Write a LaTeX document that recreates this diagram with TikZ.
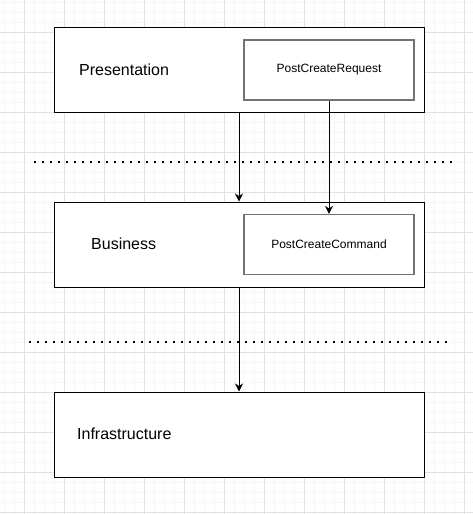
\documentclass[tikz,border=0pt]{standalone}
\usepackage[]{xcolor}
\usepackage{fontspec}
\setmainfont{Liberation Sans}
\usetikzlibrary{arrows.meta}

\definecolor{gridminor}{RGB}{246,246,246}
\definecolor{gridmajor}{RGB}{226,226,226}
\definecolor{innerline}{RGB}{115,115,115}

\tikzset{
  layer/.style     = {draw=black, line width=1pt, fill=white, rectangle,
                      minimum width=370pt, minimum height=85pt, inner sep=0pt},
  classbox/.style  = {draw=innerline, line width=1.2pt, fill=white, rectangle,
                      minimum width=170pt, minimum height=60pt, inner sep=0pt,
                      font=\fontsize{12}{14}\selectfont},
  layername/.style = {anchor=west, inner sep=0pt, font=\fontsize{16}{19}\selectfont},
  flow/.style      = {line width=1pt, -{Stealth[length=8pt,width=8pt,inset=2.5pt]}},
  divider/.style   = {line width=2pt, dash pattern=on 2pt off 6pt},
}

\begin{document}
\begin{tikzpicture}[x=1pt,y=-1pt]
        \useasboundingbox (0,0) rectangle (473,514);
        \fill[white] (0,0) rectangle (473,514);
        % background grid
        \foreach \x in {4,14,...,474} \draw[gridminor] (\x,0) -- (\x,514);
        \foreach \y in {2,12,...,514} \draw[gridminor] (0,\y) -- (473,\y);
        \foreach \x in {24,64,...,464} \draw[gridmajor] (\x,0) -- (\x,514);
        \foreach \y in {32,72,...,512} \draw[gridmajor] (0,\y) -- (473,\y);

        \node[layer] (pres)  at (239,69.5)  {};
        \node[layer] (bus)   at (239,244.5) {};
        \node[layer] (infra) at (239,434.5) {};
        \node[layername] (presname)  at (79,70)  {Presentation};
        \node[layername] (busname)   at (91,244) {Business};
        \node[layername] (infraname) at (77,434) {Infrastructure};

        \node[classbox] (request) at (329,70)    {PostCreateRequest};
        \node[classbox] (command) at (329,244.5) {PostCreateCommand};

        \coordinate (div1a) at (34,162);
        \coordinate (div1b) at (454,162);
        \coordinate (div2a) at (29,342);
        \coordinate (div2b) at (449,342);
        \draw[divider] (div1a) -- (div1b);
        \draw[divider] (div2a) -- (div2b);

        \draw[flow] (pres.south)    -- (bus.north);
        \draw[flow] (request.south) -- (command.north);
        \draw[flow] (bus.south)     -- (infra.north);
\end{tikzpicture}
\end{document}
